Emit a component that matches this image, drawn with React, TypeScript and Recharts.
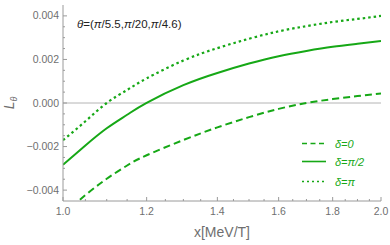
import React from "react";
import { LineChart, Line, XAxis, YAxis, ReferenceLine } from "recharts";

// x in MeV/T (log axis), L_theta values
const xValues = [1.0, 1.05, 1.1, 1.15, 1.2, 1.3, 1.4, 1.5, 1.6, 1.7, 1.8, 1.9, 2.0];
const delta0 = [
  -0.0051, -0.00423, -0.00348, -0.00287, -0.0024, -0.0017, -0.00112, -0.00065,
  -0.00027, 0.0, 0.00018, 0.00032, 0.00044
];
const deltaHalfPi = [
  -0.00284, -0.00195, -0.00116, -0.00054, 0.00001, 0.00082, 0.00138, 0.00181,
  0.00215, 0.00239, 0.00258, 0.00272, 0.00285
];
const deltaPi = [
  -0.00171, -0.00084, 0.0, 0.0006, 0.00113, 0.00195, 0.00252, 0.00295,
  0.00329, 0.00353, 0.00372, 0.00386, 0.004
];

const xMajor = [1.0, 1.2, 1.4, 1.6, 1.8, 2.0];
const xMinor = [
  1.05, 1.1, 1.15, 1.25, 1.3, 1.35, 1.45, 1.5, 1.55, 1.65, 1.7, 1.75, 1.85, 1.9, 1.95
];
const yMajor = [-0.004, -0.002, 0, 0.002, 0.004];
const yMinor = [
  -0.0035, -0.003, -0.0025, -0.0015, -0.001, -0.0005, 0.0005, 0.001, 0.0015,
  0.0025, 0.003, 0.0035
];

const data = xValues.map((x, i) => ({
  x,
  d0: delta0[i],
  d1: deltaHalfPi[i],
  d2: deltaPi[i]
}));

const GREEN = "#16a816";
const FRAME = "#9a9a9a";
const TICK_TEXT = "#6f6f6f";
const FONT = "Liberation Sans, Arial, sans-serif";

const isMajor = (v: number, majors: number[]) =>
  majors.some((m) => Math.abs(m - v) < 1e-9);

const fmtY = (v: number) => v.toFixed(3).replace("-", "\u2212");

function BottomTick({ x, y, payload }: any) {
  const major = isMajor(payload.value, xMajor);
  return (
    <g>
      <line x1={x} x2={x} y1={y} y2={y - (major ? 4 : 2)} stroke={FRAME} />
      {major && (
        <text x={x} y={y + 14} textAnchor="middle" fill={TICK_TEXT} fontSize={10.5} fontFamily={FONT}>
          {payload.value.toFixed(1)}
        </text>
      )}
    </g>
  );
}

function TopTick({ x, y, payload }: any) {
  const major = isMajor(payload.value, xMajor);
  return <line x1={x} x2={x} y1={y} y2={y + (major ? 4 : 2)} stroke={FRAME} />;
}

function LeftTick({ x, y, payload }: any) {
  const major = isMajor(payload.value, yMajor);
  return (
    <g>
      <line x1={x} x2={x + (major ? 4 : 2)} y1={y} y2={y} stroke={FRAME} />
      {major && (
        <text x={x - 4} y={y + 3.5} textAnchor="end" fill={TICK_TEXT} fontSize={10.5} fontFamily={FONT}>
          {fmtY(payload.value)}
        </text>
      )}
    </g>
  );
}

function RightTick({ x, y, payload }: any) {
  const major = isMajor(payload.value, yMajor);
  return <line x1={x} x2={x - (major ? 4 : 2)} y1={y} y2={y} stroke={FRAME} />;
}

const legendItems = [
  { label: "\u03b4=0", dash: "5 3.5", y: 143.5 },
  { label: "\u03b4=\u03c0/2", dash: undefined, y: 161.5 },
  { label: "\u03b4=\u03c0", dash: "2 3", y: 181.5 }
];

export default function App() {
  const xTicks = [...xMajor, ...xMinor].sort((a, b) => a - b);
  const yTicks = [...yMajor, ...yMinor].sort((a, b) => a - b);
  return (
    <div style={{ position: "absolute", left: 0, top: 0, width: 390, height: 245, background: "#fff" }}>
      <LineChart width={390} height={245} data={data} margin={{ top: 5, right: 9, bottom: 0, left: 0 }}>
        <XAxis
          xAxisId="main"
          dataKey="x"
          type="number"
          scale="log"
          domain={[1, 2]}
          allowDataOverflow
          ticks={xTicks}
          interval={0}
          tickSize={0}
          tickMargin={0}
          tickLine={false}
          tick={<BottomTick />}
          axisLine={{ stroke: FRAME }}
          height={44}
        />
        <XAxis
          xAxisId="top"
          orientation="top"
          dataKey="x"
          type="number"
          scale="log"
          domain={[1, 2]}
          allowDataOverflow
          ticks={xTicks}
          interval={0}
          tickSize={0}
          tickMargin={0}
          tickLine={false}
          tick={<TopTick />}
          axisLine={{ stroke: FRAME }}
          height={0}
        />
        <YAxis
          yAxisId="main"
          type="number"
          domain={[-0.0045, 0.0045]}
          allowDataOverflow
          ticks={yTicks}
          interval={0}
          tickSize={0}
          tickMargin={0}
          tickLine={false}
          tick={<LeftTick />}
          axisLine={{ stroke: FRAME }}
          width={63}
        />
        <YAxis
          yAxisId="right"
          orientation="right"
          type="number"
          domain={[-0.0045, 0.0045]}
          allowDataOverflow
          ticks={yTicks}
          interval={0}
          tickSize={0}
          tickMargin={0}
          tickLine={false}
          tick={<RightTick />}
          axisLine={{ stroke: FRAME }}
          width={0}
        />
        <ReferenceLine xAxisId="main" yAxisId="main" y={0} stroke="#b4b4b4" strokeWidth={1} />
        <Line
          xAxisId="main"
          yAxisId="main"
          type="natural"
          dataKey="d0"
          stroke={GREEN}
          strokeWidth={2}
          strokeDasharray="7 4"
          dot={false}
          isAnimationActive={false}
        />
        <Line
          xAxisId="main"
          yAxisId="main"
          type="natural"
          dataKey="d1"
          stroke={GREEN}
          strokeWidth={2}
          dot={false}
          isAnimationActive={false}
        />
        <Line
          xAxisId="main"
          yAxisId="main"
          type="natural"
          dataKey="d2"
          stroke={GREEN}
          strokeWidth={2.2}
          strokeDasharray="2.5 3"
          dot={false}
          isAnimationActive={false}
        />
      </LineChart>
      <svg
        width={390}
        height={245}
        style={{ position: "absolute", left: 0, top: 0, pointerEvents: "none" }}
      >
        <text x={77} y={28} fontSize={11.5} fontFamily={FONT} fill="#222">
          <tspan fontStyle="italic">{"\u03b8"}</tspan>=(<tspan fontStyle="italic">{"\u03c0"}</tspan>/5.5,
          <tspan fontStyle="italic">{"\u03c0"}</tspan>/20,<tspan fontStyle="italic">{"\u03c0"}</tspan>/4.6)
        </text>
        <text x={222} y={237} textAnchor="middle" fontSize={14} fontFamily={FONT} fill={TICK_TEXT}>
          x[MeV/T]
        </text>
        <text
          transform="translate(14,103) rotate(-90)"
          textAnchor="middle"
          fontSize={14}
          fontFamily={FONT}
          fill={TICK_TEXT}
        >
          <tspan fontStyle="italic">L</tspan>
          <tspan fontSize={9} dy={3} fontStyle="italic">{"\u03b8"}</tspan>
        </text>
        {legendItems.map((item) => (
          <g key={item.label}>
            <line
              x1={302}
              x2={326}
              y1={item.y}
              y2={item.y}
              stroke={GREEN}
              strokeWidth={1.6}
              strokeDasharray={item.dash}
            />
            <text x={335} y={item.y + 4} fontSize={11} fontStyle="italic" fontFamily={FONT} fill={GREEN}>
              {item.label}
            </text>
          </g>
        ))}
      </svg>
    </div>
  );
}
